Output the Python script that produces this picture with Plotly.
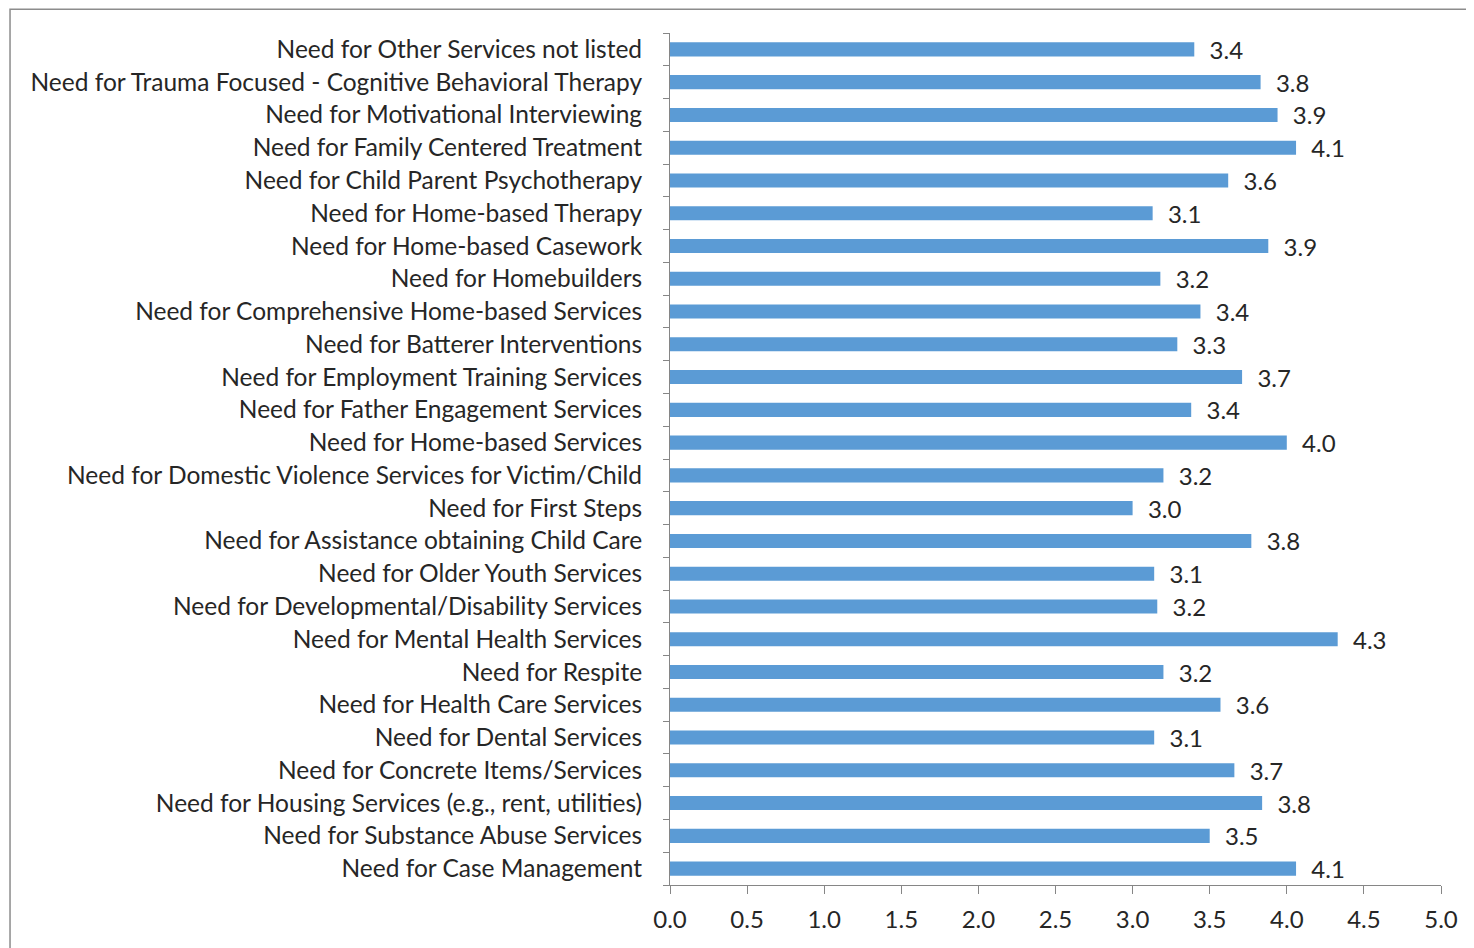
import plotly.graph_objects as go

# categories listed bottom-to-top, as plotted
services = [
    "Need for Case Management",
    "Need for Substance Abuse Services",
    "Need for Housing Services (e.g., rent, utilities)",
    "Need for Concrete Items/Services",
    "Need for Dental Services",
    "Need for Health Care Services",
    "Need for Respite",
    "Need for Mental Health Services",
    "Need for Developmental/Disability Services",
    "Need for Older Youth Services",
    "Need for Assistance obtaining Child Care",
    "Need for First Steps",
    "Need for Domestic Violence Services for Victim/Child",
    "Need for Home-based Services",
    "Need for Father Engagement Services",
    "Need for Employment Training Services",
    "Need for Batterer Interventions",
    "Need for Comprehensive Home-based Services",
    "Need for Homebuilders",
    "Need for Home-based Casework",
    "Need for Home-based Therapy",
    "Need for Child Parent Psychotherapy",
    "Need for Family Centered Treatment",
    "Need for Motivational Interviewing",
    "Need for Trauma Focused - Cognitive Behavioral Therapy",
    "Need for Other Services not listed",
]
scores = [4.06, 3.50, 3.84, 3.66, 3.14, 3.57, 3.20, 4.33, 3.16, 3.14,
          3.77, 3.00, 3.20, 4.00, 3.38, 3.71, 3.29, 3.44, 3.18, 3.88,
          3.13, 3.62, 4.06, 3.94, 3.83, 3.40]
x_ticks = [0.0, 0.5, 1.0, 1.5, 2.0, 2.5, 3.0, 3.5, 4.0, 4.5, 5.0]

font = "Lato, 'Open Sans', sans-serif"
axis_color = "#868686"
text_color = "#262626"

fig = go.Figure(go.Bar(
    x=scores,
    y=services,
    orientation="h",
    marker=dict(color="#5B9BD5", line=dict(width=0)),
    width=0.43,
    texttemplate="\u00a0\u00a0%{x:.1f}",
    textposition="outside",
    constraintext="none",
    textfont=dict(size=24, color=text_color, family=font),
    cliponaxis=False,
))

# page body adds an 8px offset, so the figure is 8px smaller than the window
fig.update_layout(
    width=1466,
    height=940,
    paper_bgcolor="white",
    plot_bgcolor="white",
    showlegend=False,
    margin=dict(l=662, r=33, t=25, b=63),
    font=dict(family=font, size=24, color=text_color),
    xaxis=dict(
        range=[0, 5],
        tickvals=x_ticks,
        ticktext=[f"{v:.1f}" for v in x_ticks],
        showgrid=False,
        zeroline=False,
        showline=True,
        linecolor=axis_color,
        linewidth=1,
        ticks="outside",
        ticklen=8,
        tickcolor=axis_color,
        ticklabelstandoff=5,
    ),
    yaxis=dict(
        categoryorder="array",
        categoryarray=services,
        showgrid=False,
        showline=True,
        linecolor=axis_color,
        linewidth=1,
        ticks="outside",
        tickson="boundaries",
        ticklen=6,
        tickcolor=axis_color,
        ticklabelstandoff=22,
        tickfont=dict(size=24.5),
    ),
    shapes=[dict(
        type="rect", xref="paper", yref="paper",
        x0=-0.856, x1=1.1, y0=-0.2, y1=1.028,
        line=dict(color="#8c8c8c", width=1.5),
        fillcolor="rgba(0,0,0,0)",
    )],
)

fig.write_html("out.html")
